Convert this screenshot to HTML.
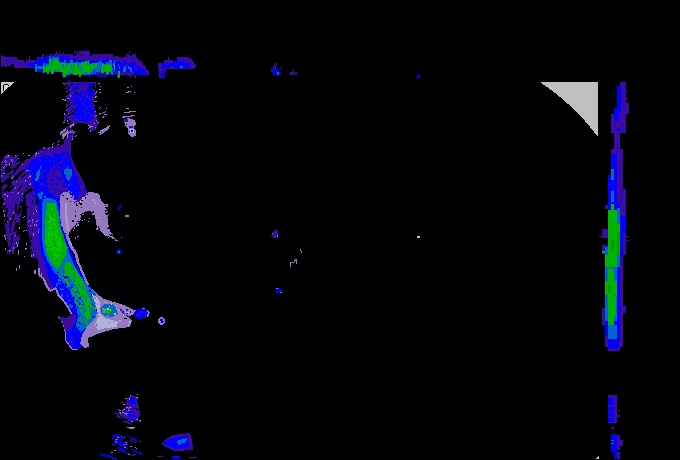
<!DOCTYPE html>
<html><head><meta charset="utf-8"><title>Radar</title>
<style>
html,body{margin:0;padding:0;background:#000;width:680px;height:460px;overflow:hidden;font-family:"Liberation Sans",sans-serif;}
svg{display:block;position:absolute;left:0;top:0}
</style></head><body>
<svg width="680" height="460" viewBox="0 0 680 460" shape-rendering="crispEdges">
<rect width="680" height="460" fill="#000"/>
<path fill="#3a0ca3" d="M1 57h1v10h-1zM2 56h3v10h-3zM5 57h2v10h-2zM7 57h3v9h-3zM10 56h1v10h-1zM11 57h3v7h-3zM14 57h1v11h-1zM15 57h2v11h-2zM17 60h2v8h-2zM19 60h2v8h-2zM21 60h2v8h-2zM23 60h1v8h-1zM24 62h2v6h-2zM26 60h2v8h-2zM28 60h3v8h-3zM31 60h1v8h-1zM32 60h3v8h-3zM35 62h2v10h-2zM37 57h2v13h-2zM39 57h2v15h-2zM41 57h2v13h-2zM43 57h2v15h-2zM45 57h1v15h-1zM46 58h1v14h-1zM47 57h1v15h-1zM48 57h1v14h-1zM49 54h2v17h-2zM51 54h2v18h-2zM53 56h1v16h-1zM54 54h3v18h-3zM57 54h2v16h-2zM59 54h3v18h-3zM62 54h1v21h-1zM63 52h1v22h-1zM64 54h2v21h-2zM66 54h3v21h-3zM69 55h1v20h-1zM70 54h3v21h-3zM73 56h3v18h-3zM76 53h1v21h-1zM77 54h2v21h-2zM79 54h2v21h-2zM81 56h1v19h-1zM82 54h3v21h-3zM85 54h2v22h-2zM87 54h1v21h-1zM88 54h1v21h-1zM89 54h1v20h-1zM90 56h2v19h-2zM92 54h2v21h-2zM94 54h1v21h-1zM95 54h2v21h-2zM97 54h3v21h-3zM100 54h1v21h-1zM101 54h1v20h-1zM102 54h2v21h-2zM104 54h2v22h-2zM106 54h2v21h-2zM108 54h1v21h-1zM109 54h2v21h-2zM111 57h1v18h-1zM112 57h1v18h-1zM113 57h1v18h-1zM114 57h1v18h-1zM115 56h3v18h-3zM118 57h1v18h-1zM119 57h2v18h-2zM121 58h2v18h-2zM123 57h3v17h-3zM126 54h2v21h-2zM128 55h2v21h-2zM130 56h2v19h-2zM132 54h2v21h-2zM134 54h2v20h-2zM136 58h1v17h-1zM137 58h1v17h-1zM138 60h2v14h-2zM140 62h1v13h-1zM141 61h1v14h-1zM142 63h1v13h-1zM143 65h2v10h-2zM145 67h1v7h-1zM146 70h1v4h-1zM147 70h2v5h-2z"/>
<path fill="#0000ff" d="M28 63h3v3h-3zM31 63h1v4h-1zM32 63h3v4h-3zM35 60h2v9h-2zM37 60h2v12h-2zM39 58h2v11h-2zM41 60h2v13h-2zM43 57h2v15h-2zM45 58h1v14h-1zM46 57h1v15h-1zM47 57h1v15h-1zM48 56h1v16h-1zM49 55h2v17h-2zM51 57h2v15h-2zM53 56h1v16h-1zM54 56h3v16h-3zM57 57h2v12h-2zM59 56h3v13h-3zM62 56h1v19h-1zM63 56h1v21h-1zM64 56h2v17h-2zM66 56h3v21h-3zM69 62h1v12h-1zM70 60h3v15h-3zM73 58h3v15h-3zM76 60h1v16h-1zM77 60h2v15h-2zM79 60h2v15h-2zM81 60h1v15h-1zM82 60h3v15h-3zM85 62h2v13h-2zM87 60h1v15h-1zM88 59h1v16h-1zM89 61h1v16h-1zM90 60h2v16h-2zM92 60h2v15h-2zM94 61h1v14h-1zM95 60h2v14h-2zM97 60h3v17h-3zM100 60h1v15h-1zM101 60h1v15h-1zM102 60h2v17h-2zM104 60h2v15h-2zM106 59h2v16h-2zM108 60h1v13h-1zM109 61h2v14h-2zM111 60h1v15h-1zM112 60h1v17h-1zM113 60h1v15h-1zM114 60h1v15h-1zM115 62h3v11h-3zM118 61h1v13h-1zM119 62h2v12h-2zM121 62h2v8h-2zM123 60h3v12h-3zM126 62h2v11h-2zM128 64h2v8h-2zM130 62h2v10h-2zM132 62h2v10h-2zM134 62h2v12h-2zM136 63h1v12h-1zM137 65h1v10h-1zM138 66h2v9h-2zM140 68h1v7h-1zM141 68h1v5h-1zM142 69h1v6h-1zM143 69h2v6h-2zM145 72h1v4h-1zM146 72h1v3h-1z"/>
<path fill="#0068c8" d="M35 64h2v8h-2zM37 66h2v3h-2zM39 66h2v3h-2zM41 66h2v3h-2zM43 63h2v10h-2zM45 66h1v6h-1zM46 63h1v9h-1zM47 64h1v9h-1zM48 64h1v10h-1zM49 56h2v16h-2zM51 58h2v16h-2zM53 56h1v18h-1zM54 57h3v15h-3zM57 57h2v11h-2zM59 62h3v10h-3zM62 63h1v13h-1zM63 62h1v16h-1zM64 60h2v12h-2zM66 63h3v12h-3zM69 63h1v12h-1zM70 60h3v14h-3zM73 63h3v12h-3zM76 63h1v9h-1zM77 64h2v11h-2zM79 63h2v12h-2zM81 62h1v12h-1zM82 63h3v12h-3zM85 66h2v9h-2zM87 62h1v13h-1zM88 60h1v15h-1zM89 63h1v12h-1zM90 66h2v8h-2zM92 63h2v11h-2zM94 63h1v7h-1zM95 64h2v8h-2zM97 62h3v12h-3zM100 60h1v9h-1zM101 62h1v10h-1zM102 63h2v9h-2zM104 64h2v8h-2zM106 62h2v13h-2zM108 63h1v11h-1zM109 60h2v12h-2zM111 60h1v10h-1zM112 66h1v9h-1zM113 63h1v6h-1zM114 60h1v15h-1zM118 64h1v2h-1zM119 66h2v3h-2zM123 68h3v4h-3zM126 66h2v3h-2zM128 66h2v3h-2zM130 69h2v3h-2z"/>
<path fill="#00b400" d="M43 66h2v6h-2zM45 68h1v4h-1zM46 64h1v8h-1zM47 66h1v8h-1zM48 66h1v7h-1zM49 59h2v11h-2zM51 62h2v12h-2zM53 60h1v12h-1zM54 59h3v11h-3zM57 61h2v11h-2zM59 63h3v9h-3zM62 63h1v9h-1zM63 63h1v11h-1zM64 63h2v14h-2zM66 65h3v9h-3zM69 64h1v6h-1zM70 63h3v10h-3zM73 63h3v12h-3zM76 62h1v13h-1zM77 63h2v11h-2zM79 63h2v14h-2zM81 64h1v11h-1zM82 62h3v11h-3zM85 61h2v11h-2zM87 63h1v9h-1zM88 61h1v13h-1zM89 64h1v10h-1zM90 64h2v8h-2zM92 63h2v6h-2zM94 65h1v3h-1zM95 63h2v5h-2zM102 64h2v9h-2zM104 65h2v7h-2zM106 64h2v10h-2zM108 65h1v7h-1zM109 65h2v6h-2zM111 65h1v9h-1z"/>
<path fill="#3a0ca3" d="M1 54h1v4h-1zM42 54h2v3h-2zM46 54h1v3h-1zM56 51h1v3h-1zM59 51h1v3h-1zM74 51h1v3h-1zM77 51h1v3h-1zM79 51h11v3h-11zM111 54h2v3h-2zM129 51h1v3h-1zM29 56h1v4h-1z"/>
<path fill="#0068c8" d="M117 72h1v5h-1zM119 72h1v3h-1z"/>
<path fill="#00b400" d="M118 71h2v7h-2zM52 69h1v2h-1zM57 69h1v2h-1z"/>
<path fill="#3a0ca3" d="M96 72h6v3h-6zM113 72h5v3h-5zM122 72h12v3h-12zM101 75h1v3h-1zM105 75h1v3h-1zM131 75h1v3h-1zM134 75h2v3h-2z"/>
<path fill="#0000ff" d="M120 63h2v9h-2zM126 66h2v6h-2zM112 64h2v4h-2z"/>
<path fill="#0068c8" d="M124 66h2v4h-2zM130 68h2v3h-2z"/>
<path fill="#3a0ca3" d="M136 60h2v1h-2zM122 63h1v1h-1zM118 59h2v2h-2zM120 61h1v2h-1zM123 61h1v2h-1zM119 61h1v1h-1zM134 64h1v1h-1zM135 66h1v1h-1zM128 63h1v1h-1zM129 65h2v2h-2zM135 61h1v1h-1zM135 66h2v2h-2zM120 59h2v1h-2zM137 60h2v2h-2zM136 63h2v2h-2zM121 62h2v1h-2zM135 68h2v2h-2zM123 65h1v1h-1zM134 60h1v2h-1zM126 65h2v2h-2zM140 61h1v1h-1zM127 60h1v1h-1zM127 62h2v1h-2zM125 64h2v2h-2zM141 64h2v2h-2zM122 65h2v1h-2z"/>
<path fill="#0068c8" d="M78 67h1v3h-1zM57 69h1v2h-1zM79 65h1v2h-1zM71 66h1v3h-1zM81 62h1v4h-1zM77 62h1v3h-1zM65 66h1v2h-1zM71 64h1v5h-1zM78 62h1v4h-1zM63 66h1v3h-1zM63 64h1v5h-1zM95 69h1v5h-1zM73 64h1v5h-1zM80 67h1v5h-1zM87 61h1v4h-1zM51 63h1v2h-1zM51 63h1v4h-1zM82 69h1v2h-1zM90 68h1v2h-1zM62 64h1v4h-1zM81 67h1v2h-1zM72 68h1v3h-1zM68 63h1v2h-1zM78 65h1v5h-1zM78 62h1v3h-1zM59 68h1v4h-1z"/>
<path fill="#00b400" d="M109 69h1v3h-1zM102 67h1v3h-1zM111 67h1v4h-1zM114 65h1v3h-1zM106 66h1v2h-1zM111 66h1v3h-1zM106 69h1v2h-1zM113 64h1v2h-1zM101 69h1v4h-1zM101 68h1v2h-1zM102 64h1v2h-1zM103 67h1v3h-1z"/>
<path fill="#3a0ca3" d="M158 63h6v6h-6zM164 60h8v9h-8zM168 57h1v3h-1zM172 61h5v8h-5zM177 57h12v12h-12zM189 59h3v10h-3zM192 61h2v8h-2zM194 64h2v4h-2zM159 69h7v3h-7zM159 72h6v6h-6zM160 68h2v2h-2z"/>
<path fill="#0000ff" d="M162 63h28v5h-28zM173 61h16v2h-16zM161 73h4v4h-4zM163 70h2v3h-2z"/>
<path fill="#3a0ca3" d="M166 63h3v2h-3zM170 66h3v2h-3zM186 61h3v2h-3z"/>
<path fill="#0068c8" d="M180 66h3v2h-3z"/>
<polygon fill="#3a0ca3" points="66,82 96,82 96,92 94,100 95,110 97,118 98,124 96,130 90,131 88,124 80,123 72,122 67,118 68,112 66,106 68,98 70,90"/>
<polygon fill="#0000ff" points="70,83 95,83 94,92 92,100 94,112 93,120 86,122 79,121 74,116 76,106 70,102 73,94 71,88"/>
<polygon fill="#3a0ca3" points="79,84 87,84 87,90 84,92 79,91"/>
<path fill="#3a0ca3" d="M76 87h1v2h-1zM75 90h2v1h-2zM73 83h1v1h-1zM82 92h2v2h-2zM89 106h2v1h-2zM84 113h2v2h-2zM72 92h1v2h-1zM85 93h1v1h-1zM86 106h1v1h-1zM79 88h2v2h-2zM75 105h1v2h-1zM90 97h1v1h-1zM82 97h1v2h-1zM81 84h1v2h-1zM85 99h1v2h-1zM84 105h2v1h-2zM77 89h1v2h-1zM76 104h1v2h-1zM90 105h1v1h-1zM82 95h2v1h-2zM83 104h1v2h-1zM84 108h1v1h-1zM75 91h1v1h-1zM88 112h1v2h-1zM91 105h1v1h-1zM70 83h1v1h-1zM83 95h1v1h-1zM78 96h2v1h-2zM80 99h2v1h-2zM84 120h2v1h-2zM87 92h1v2h-1zM89 83h1v1h-1zM74 113h1v1h-1zM80 116h2v1h-2zM87 86h1v1h-1zM78 85h1v2h-1zM87 84h1v2h-1zM86 121h1v2h-1zM84 115h2v1h-2zM92 116h2v1h-2zM84 91h2v1h-2zM82 111h2v1h-2zM91 98h2v1h-2zM76 102h1v1h-1zM92 106h1v2h-1zM77 89h2v2h-2zM75 97h1v2h-1zM86 108h2v2h-2zM76 105h2v1h-2zM87 112h2v1h-2zM82 104h2v1h-2zM73 97h1v1h-1zM78 100h1v1h-1zM78 91h2v2h-2zM82 92h2v2h-2zM72 100h1v1h-1zM83 87h2v1h-2zM90 88h2v1h-2zM89 97h1v2h-1zM87 109h2v1h-2zM73 93h2v1h-2zM75 95h2v2h-2zM86 96h2v2h-2zM86 94h2v2h-2zM78 85h1v1h-1zM93 115h1v2h-1zM77 111h1v2h-1zM91 114h2v2h-2zM92 96h1v2h-1zM76 91h2v2h-2zM90 99h2v1h-2zM71 88h2v2h-2zM89 98h2v1h-2zM84 94h1v2h-1zM84 83h2v2h-2zM80 118h2v1h-2zM71 102h1v2h-1zM75 83h2v2h-2zM78 115h1v1h-1zM86 83h1v2h-1zM72 92h2v1h-2zM82 84h2v2h-2zM90 97h1v1h-1zM82 103h2v1h-2zM90 92h1v2h-1zM93 115h1v1h-1zM72 84h1v1h-1zM90 106h1v2h-1zM84 118h1v1h-1zM90 117h1v2h-1z"/>
<path fill="#0000ff" d="M72 84h2v1h-2zM76 118h1v1h-1zM75 100h1v2h-1zM71 97h1v2h-1zM75 108h1v2h-1zM68 96h1v1h-1zM73 100h2v1h-2zM68 114h1v2h-1zM72 90h1v2h-1zM72 117h2v2h-2zM75 113h1v1h-1zM72 89h2v1h-2zM72 113h1v2h-1zM72 108h1v1h-1zM69 89h1v2h-1zM73 92h2v1h-2zM73 98h2v2h-2zM74 85h1v1h-1zM75 112h2v2h-2zM70 110h2v2h-2z"/>
<path fill="#000" d="M90 84h1v10h-1zM92 84h1v4h-1zM93 86h1v4h-1zM94 84h1v5h-1zM95 88h1v4h-1zM77 87h2v2h-2zM75 92h2v2h-2z"/>
<path fill="none" stroke="#3a0ca3" stroke-width="1.5" d="M64.5 115.9L67.1 114.4M68.7 88.6L75.2 84.6M69.2 95.0L73.1 92.1M70.0 106.4L73.9 103.6M64.2 85.8L67.3 84.1M64.3 119.6L67.6 116.9M66.1 91.2L70.4 89.0M69.1 114.9L74.5 112.0M69.5 104.9L74.4 100.4M67.9 101.1L73.6 97.5M64.3 85.9L70.0 80.8M65.8 97.1L69.6 94.8M69.8 93.9L74.7 90.0M66.5 99.0L69.4 96.5M63.7 118.4L67.9 114.9M65.6 89.3L68.5 86.7"/>
<path fill="none" stroke="#000" stroke-width="1" d="M66.7 89.1L69.6 86.8M68.6 116.2L72.8 113.1M67.3 103.8L70.6 101.3M64.5 95.4L68.9 91.5M68.0 107.4L72.3 103.8M66.2 94.4L69.6 92.0M71.6 114.9L75.7 111.0M64.3 110.1L68.9 106.8M68.7 86.0L72.4 84.1M70.6 115.1L75.2 111.4M64.9 91.2L68.8 88.9M71.5 110.5L75.8 108.1M67.7 104.8L70.4 103.2M65.9 117.3L69.7 114.2"/>
<path fill="none" stroke="#000" stroke-width="1" d="M92.8 102.5L96.1 100.5M92.7 97.8L95.7 95.9M94.3 101.8L97.1 99.2M93.8 108.0L97.9 105.4M97.3 108.4L99.4 106.7M97.8 114.3L99.9 112.3"/>
<path fill="none" stroke="#9478c0" stroke-width="1" d="M66.0 111.0L67.1 110.1M67.3 121.0L68.2 120.2M64.7 100.8L66.0 99.7M68.4 113.6L69.5 112.6M69.8 96.5L71.2 95.3M63.8 114.4L64.9 113.8M66.0 91.5L67.0 90.8M67.3 122.0L68.2 121.3M63.7 123.0L64.5 122.2M62.5 99.7L64.2 98.8M67.9 123.9L69.4 122.7M63.5 121.4L64.8 120.2M67.3 99.1L68.4 98.3M63.4 84.1L64.4 83.3"/>
<path fill="none" stroke="#9478c0" stroke-width="1" d="M99.7 87.2L101.2 85.9M95.5 116.5L97.0 115.4M95.6 120.6L96.6 119.9M99.3 83.3L100.5 82.6M98.4 83.7L99.1 83.0M99.4 92.8L101.0 92.0M95.4 93.4L97.0 92.4M94.8 112.1L95.9 111.3M99.4 108.6L100.8 107.3M94.6 102.0L96.4 101.1M95.7 92.5L96.9 91.7M99.5 89.7L101.0 88.8M98.8 114.5L100.0 113.5M95.2 97.2L96.6 96.0"/>
<path fill="none" stroke="#3a0ca3" stroke-width="2" d="M60.0 134.0L79.0 120.0M63.0 131.0L76.0 122.0M66.0 134.0L72.0 129.0"/>
<path fill="none" stroke="#9478c0" stroke-width="2" d="M60.0 134.0L66.0 129.0M70.0 127.0L74.0 124.0M62.0 136.0L68.0 131.0"/>
<path fill="none" stroke="#9478c0" stroke-width="1.3" d="M99.6 135.0L103.7 131.8M98.8 133.0L105.1 129.1M99.9 132.3L106.1 129.1M103.3 130.0L110.0 125.4M102.5 132.0L108.7 127.6M100.0 131.0L104.3 129.1M102.6 131.6L108.1 129.4"/>
<path fill="none" stroke="#9478c0" stroke-width="1" d="M102.0 113.6L105.9 111.6M101.8 117.7L105.9 116.0M99.2 114.1L101.1 112.7M104.2 115.1L106.7 114.0"/>
<path fill="none" stroke="#9478c0" stroke-width="1" d="M97.3 123.1L99.3 122.0M88.6 125.7L89.6 125.0M89.1 128.0L90.9 126.7M94.1 123.9L95.4 122.9M95.5 127.5L96.4 126.8M90.7 127.5L92.5 126.1M88.0 129.0L89.4 127.9M89.7 131.5L91.1 130.7"/>
<path fill="none" stroke="#9478c0" stroke-width="1" d="M67.0 135.9L69.4 134.6M67.1 134.4L68.9 132.7M62.1 139.3L63.7 138.3M67.7 139.2L69.1 137.9M62.2 136.9L64.2 135.7M63.2 137.4L64.6 136.3M64.0 135.0L65.8 134.0M63.5 136.4L65.8 135.2M64.8 133.9L67.3 132.5M68.8 133.4L71.0 131.6M74.7 137.3L76.6 135.5M73.0 134.6L74.6 133.6M73.6 134.3L74.7 133.4M69.3 135.7L70.2 134.9M72.1 139.3L73.0 138.6M72.6 133.3L74.5 131.4"/>
<path fill="#9478c0" d="M127 87h2v1h-2zM131 86h1v1h-1zM126 92h3v1h-3zM128 91h3v1h-3zM134 92h1v1h-1zM104 112h1v1h-1zM106 108h1v1h-1z"/>
<path fill="#3a0ca3" d="M130 93h2v1h-2zM104 116h2v1h-2z"/>
<path fill="none" stroke="#9478c0" stroke-width="1" d="M126.0 109.0L129.0 108.0M124.0 113.0L130.0 112.0M129.0 112.0L136.0 111.0M122.0 118.0L128.0 116.0M128.0 117.0L135.0 115.0M123.0 116.0L126.0 116.0"/>
<polygon fill="#9478c0" points="124,120 128,118 135,120 136,124 134,127 136,131 136,136 131,137 128,134 128,128 125,126"/>
<path fill="#3a0ca3" d="M124 119h4v3h-4zM129 126h4v2h-4z"/>
<path fill="#0000ff" d="M130 127h2v1h-2z"/>
<path fill="#b0b4d8" d="M130 129h4v4h-4z"/>
<path fill="#0000ff" d="M131 130h2v2h-2z"/>
<path fill="#000" d="M126 124h1v1h-1zM134 128h2v1h-2zM129 131h1v1h-1z"/>
<polygon fill="#3a0ca3" points="64,141 68,135 72,131 76,132 72,138 71,145 71,155 74,165 79,173 84,183 87,192 88,198 80,203 62,225 67,237 72,253 78,267 86,281 90,287 96,293 98,305 96,317 88,325 82,335 80,344 78,350 72,349 66,341 65,331 63,323 58,316 68,319 72,315 69,309 64,301 58,295 56,287 50,291 46,285 44,279 39,275 38,267 38,261 34,250 30,240 27,225 26,200 23,200 22,215 20,235 14,248 10,253 7,240 5,225 2,205 2,188 1,175 1,163 4,158 12,161 22,164 30,158 38,151 48,150 58,150 63,148"/>
<polygon fill="#0000ff" points="38,150 44,150 52,153 58,154 64,152 67,151 70,155 72,165 76,177 80,187 79,195 76,200 62,225 67,237 72,253 78,267 86,281 90,287 96,293 98,305 96,317 88,325 82,335 82,347 76,349 70,347 66,338 66,323 76,315 73,314 70,309 65,301 59,295 55,289 50,281 46,268 43,260 41,252 39,240 39,225 39,212 36,201 34,189 32,177 28,166 30,161"/>
<polygon fill="#3a0ca3" points="51,168 56,164 60,167 62,175 64,182 67,186 68,193 62,196 55,197 50,193 47,185 47,175"/>
<path fill="#3a0ca3" d="M62 159h1v2h-1zM60 161h2v2h-2zM47 150h1v2h-1zM65 157h2v2h-2zM61 153h1v1h-1zM58 163h2v1h-2zM64 166h1v1h-1zM44 152h2v1h-2zM44 150h1v1h-1zM48 154h2v2h-2zM46 157h1v2h-1zM52 155h2v2h-2zM65 154h2v2h-2zM68 157h2v2h-2zM38 156h1v2h-1zM53 160h2v1h-2zM52 153h1v2h-1zM64 167h1v2h-1zM61 161h2v2h-2zM59 168h1v2h-1zM57 152h2v1h-2zM39 159h2v2h-2zM50 154h2v2h-2zM62 166h2v1h-2zM55 153h2v1h-2zM62 168h2v1h-2zM49 161h2v1h-2zM44 150h1v1h-1zM64 153h1v1h-1zM53 162h2v1h-2zM71 161h2v2h-2zM51 155h1v1h-1zM47 157h1v1h-1zM42 150h1v1h-1zM62 156h2v1h-2zM68 159h1v2h-1zM60 163h2v1h-2zM64 155h1v1h-1zM52 157h1v1h-1zM57 158h1v2h-1z"/>
<path fill="#0000ff" d="M56 177h1v1h-1zM52 180h1v1h-1zM52 184h1v2h-1zM57 179h2v2h-2zM54 183h1v2h-1zM51 166h1v1h-1zM50 174h2v1h-2zM48 172h1v1h-1zM48 168h2v1h-2zM59 170h1v1h-1zM53 171h1v1h-1zM62 170h1v1h-1zM56 184h2v2h-2zM55 165h2v2h-2zM56 167h2v2h-2zM62 182h1v2h-1zM58 194h1v1h-1zM49 182h1v2h-1zM56 167h1v2h-1zM62 170h2v1h-2zM62 186h2v1h-2zM56 177h1v2h-1zM52 171h1v2h-1zM58 170h2v2h-2zM58 177h2v2h-2zM52 188h1v2h-1zM51 166h2v2h-2zM63 173h2v2h-2zM52 193h2v2h-2zM51 185h2v1h-2zM63 176h2v2h-2zM51 179h2v2h-2zM52 179h2v1h-2zM55 170h1v1h-1zM53 188h1v1h-1zM56 183h2v2h-2zM53 170h1v2h-1zM53 188h2v1h-2zM60 178h2v2h-2zM55 189h1v1h-1zM60 190h1v1h-1zM61 191h2v2h-2zM60 179h2v1h-2zM55 191h2v2h-2zM63 175h2v1h-2zM50 166h2v1h-2zM52 176h2v1h-2zM65 193h1v2h-1zM63 185h2v2h-2zM53 175h2v1h-2z"/>
<path fill="#3a0ca3" d="M41 165h2v2h-2zM42 187h1v1h-1zM43 184h2v1h-2zM37 181h2v1h-2zM42 191h1v1h-1zM34 166h1v2h-1zM37 171h2v2h-2zM44 180h1v2h-1zM41 176h2v2h-2zM38 189h1v2h-1zM41 177h2v2h-2zM45 193h2v1h-2zM41 171h2v2h-2zM31 167h2v1h-2zM30 162h1v1h-1zM39 178h1v1h-1zM37 173h2v2h-2zM34 175h2v1h-2zM39 174h2v1h-2zM44 169h1v2h-1zM43 176h1v2h-1zM44 171h2v1h-2zM45 172h1v1h-1zM40 191h2v2h-2zM44 185h2v2h-2zM32 173h2v1h-2zM30 164h2v1h-2zM45 171h1v1h-1zM43 170h2v1h-2zM41 183h2v1h-2z"/>
<path fill="#0000ff" d="M26 187h2v2h-2zM26 182h2v2h-2zM27 192h2v2h-2zM27 172h2v2h-2zM32 165h1v2h-1zM33 195h2v1h-2zM28 179h1v1h-1zM31 163h2v1h-2zM32 189h1v1h-1zM32 171h1v2h-1zM27 168h2v2h-2zM31 197h1v2h-1zM31 193h1v1h-1zM34 186h2v2h-2zM32 184h1v2h-1zM34 186h1v1h-1zM32 190h1v1h-1zM25 167h1v2h-1zM33 196h1v2h-1zM27 169h1v2h-1zM32 195h2v2h-2zM32 176h1v1h-1zM22 165h2v2h-2zM31 163h2v2h-2z"/>
<path fill="#3a0ca3" d="M76 181h1v1h-1zM65 177h1v2h-1zM71 174h1v2h-1zM71 184h2v1h-2zM74 178h2v1h-2zM70 174h2v1h-2zM66 174h2v2h-2zM69 175h1v2h-1zM76 188h1v2h-1zM76 183h1v2h-1zM64 173h2v2h-2zM77 182h1v1h-1zM68 172h1v1h-1zM71 177h2v2h-2zM69 167h2v2h-2zM65 177h2v1h-2zM66 176h1v2h-1zM70 182h1v1h-1zM68 174h2v2h-2zM66 174h1v2h-1zM68 171h2v1h-2zM62 167h1v2h-1z"/>
<path fill="#0000ff" d="M85 190h2v1h-2zM74 170h1v1h-1zM82 195h2v1h-2zM69 159h2v1h-2zM77 180h2v1h-2zM74 176h2v1h-2zM75 171h1v2h-1zM76 179h2v1h-2zM77 177h2v1h-2zM80 182h2v1h-2zM71 173h2v1h-2zM71 162h1v1h-1zM71 163h1v1h-1zM84 188h1v2h-1zM78 186h1v2h-1zM82 184h1v1h-1zM69 169h2v1h-2zM85 190h2v1h-2zM80 181h2v1h-2zM69 157h2v1h-2zM83 187h1v1h-1zM79 188h1v2h-1zM76 175h1v2h-1zM78 185h1v2h-1zM73 177h1v2h-1zM76 177h1v1h-1z"/>
<polygon fill="#0068c8" points="66,168 69,165 68,169 72,169 72,175 70,178 69,182 67,179 66,176 64,174 64,170"/>
<polygon fill="#0068c8" points="37,171 40,169 40,175 38,181 35,181 36,176"/>
<polygon fill="#0068c8" points="38,193 43,192 42,199 38,199"/>
<path fill="#0068c8" d="M40 166h1v3h-1zM41 183h1v2h-1zM44 196h2v2h-2zM68 184h1v2h-1z"/>
<polygon fill="#0068c8" points="43,199 49,198 56,200 59,212 61,228 65,240 70,255 74,265 80,275 86,283 92,290 96,294 98,305 96,317 88,325 80,333 76,325 78,317 76,305 70,291 62,281 54,271 48,262 44,252 42,240 42,205"/>
<polygon fill="#00b400" points="47,203 55,203 58,214 60,228 64,240 67,248 66,255 62,262 58,269 54,266 50,260 46,250 45,240 45,225 46,212"/>
<polygon fill="#00cc00" points="49,214 54,218 58,232 62,246 61,254 56,258 51,250 48,238 48,224"/>
<path fill="#00b400" d="M51 222h2v2h-2zM60 243h1v1h-1zM57 231h2v1h-2zM52 221h1v2h-1zM51 216h2v1h-2zM52 236h1v1h-1zM49 243h1v2h-1zM50 232h2v2h-2zM52 229h1v2h-1zM58 238h1v2h-1zM55 249h2v2h-2zM55 233h1v1h-1zM53 228h1v2h-1zM57 239h1v2h-1zM50 229h2v2h-2zM55 231h2v1h-2zM52 217h1v1h-1zM57 236h2v1h-2zM56 238h2v2h-2zM56 228h1v2h-1zM53 222h1v2h-1zM61 247h1v2h-1zM59 254h1v2h-1zM60 249h1v2h-1zM54 250h1v2h-1zM54 242h2v2h-2zM52 236h2v2h-2zM58 234h1v2h-1zM54 242h2v1h-2zM56 233h1v2h-1zM57 238h1v1h-1zM53 252h1v2h-1zM51 241h1v1h-1zM48 230h2v2h-2zM56 253h2v2h-2zM54 243h2v1h-2zM53 242h1v1h-1zM56 228h1v2h-1zM53 246h2v1h-2zM54 245h2v2h-2zM60 253h2v1h-2zM50 237h2v2h-2zM49 233h1v1h-1zM61 246h2v1h-2zM56 232h1v1h-1zM54 225h1v1h-1zM53 250h1v2h-1zM54 220h1v1h-1zM51 225h2v2h-2zM54 252h1v1h-1zM50 247h1v1h-1zM49 218h1v2h-1zM57 241h1v1h-1zM58 251h2v1h-2zM53 231h1v1h-1zM49 236h1v2h-1zM57 238h1v1h-1zM51 239h1v2h-1zM51 229h1v1h-1zM52 240h2v2h-2z"/>
<path fill="#00cc00" d="M47 234h2v1h-2zM58 242h2v2h-2zM45 234h1v1h-1zM50 248h2v1h-2zM45 240h2v2h-2zM48 245h2v2h-2zM56 234h2v1h-2zM59 239h2v1h-2zM53 206h2v1h-2zM52 219h1v1h-1zM53 219h2v2h-2zM52 223h2v2h-2zM51 254h2v1h-2zM54 263h1v1h-1zM63 250h1v2h-1zM51 219h1v1h-1zM62 237h2v1h-2zM54 204h2v1h-2zM52 244h1v1h-1zM47 249h2v1h-2zM47 242h1v1h-1zM54 219h2v2h-2zM56 254h2v1h-2zM53 225h1v2h-1zM66 247h2v1h-2zM52 254h2v1h-2zM50 240h1v2h-1zM58 228h2v1h-2zM62 242h1v1h-1zM53 258h2v1h-2zM48 239h1v1h-1zM52 217h1v2h-1zM51 247h1v2h-1zM53 214h2v2h-2zM59 246h2v1h-2zM51 208h2v1h-2zM62 236h1v1h-1zM50 248h2v2h-2zM47 228h2v1h-2zM52 233h1v2h-1z"/>
<polygon fill="#00b400" points="66,262 70,262 76,270 82,280 88,292 91,304 91,316 87,323 83,322 85,312 84,302 79,291 73,282 67,274 64,268"/>
<path fill="none" stroke="#00b400" stroke-width="1.2" d="M76.4 297.7L78.2 301.3M65.9 272.0L67.5 275.9M72.8 281.6L76.0 285.8M77.0 303.8L80.4 308.3M68.3 273.8L70.0 278.0M74.0 286.5L77.0 291.2M64.0 273.4L66.7 279.5M64.6 269.1L66.0 272.2M79.7 293.6L81.8 296.5M78.9 302.5L81.6 307.0M75.1 296.5L77.6 300.5M64.8 278.3L68.7 283.9M79.8 301.1L81.5 304.4M80.1 302.7L83.8 307.7M79.8 317.2L81.9 322.3M71.4 290.8L74.2 295.9M61.1 273.3L65.1 278.6M79.9 309.4L83.6 314.1M64.6 278.9L67.1 283.3M67.2 283.7L70.6 288.0M64.7 274.1L67.4 280.3M74.8 298.4L77.1 304.3"/>
<path fill="none" stroke="#0068c8" stroke-width="1.2" d="M83.4 288.9L85.0 292.8M78.5 283.7L81.6 288.4M72.8 282.1L75.9 286.6M81.0 299.9L85.0 305.2M89.6 316.2L91.6 319.0M73.6 283.8L77.7 289.8M88.4 304.9L90.5 309.1M82.8 315.0L86.3 321.0M89.0 310.6L93.7 317.0M82.8 286.3L84.9 290.8M90.0 297.2L91.7 300.6M82.4 319.9L84.4 322.7M89.9 297.1L92.3 300.9M83.3 305.3L86.4 312.2M72.9 272.5L76.6 279.1M85.2 299.6L87.8 302.9M70.8 265.4L73.0 268.3M81.2 308.6L85.3 315.3M90.3 314.4L92.0 317.0M74.0 283.7L76.2 287.9M86.8 290.7L88.2 293.5M82.2 295.0L85.4 300.7M71.7 277.2L75.1 281.8M86.7 320.6L88.4 323.9M90.2 299.5L92.0 302.6M84.7 316.2L87.6 322.9M85.8 293.7L87.9 298.0M89.6 302.5L92.3 306.4M86.1 290.6L89.4 297.6M72.4 267.3L73.6 270.1"/>
<path fill="none" stroke="#009c00" stroke-width="1" d="M53.5 228.5L54.2 232.9M52.7 213.0L53.7 218.0M57.6 218.1L59.0 223.7M54.7 239.2L55.4 242.5M58.2 233.0L59.2 236.6M62.6 233.0L63.3 236.3M51.0 244.5L52.0 248.7M48.1 223.0L49.1 227.0M60.0 267.6L60.8 271.6M49.6 250.8L50.3 252.7M58.0 226.4L59.1 229.5M53.9 234.5L55.3 238.4M51.3 254.1L52.5 259.5M53.3 239.1L54.7 244.8M66.2 248.5L66.8 250.7M56.9 242.4L58.4 246.9M62.7 236.4L64.0 240.5M62.2 237.3L63.2 240.5M56.4 257.8L57.4 262.9M55.8 213.7L58.0 219.2M62.5 257.9L63.0 260.1M62.6 263.6L64.5 268.3M55.7 244.2L56.3 248.4M56.0 221.9L56.9 224.4M62.3 262.8L63.5 265.9M57.0 250.8L58.2 254.0M62.6 240.3L63.4 243.4M54.1 226.8L55.6 230.3M62.0 252.4L62.8 254.9M48.1 217.6L49.1 221.4"/>
<path fill="none" stroke="#00b400" stroke-width="1.4" d="M80.7 295.5L84.6 301.3M77.8 293.6L79.8 296.4M85.4 320.9L88.9 326.5M80.2 278.4L81.9 282.3M91.3 316.5L94.9 321.2M73.8 288.5L77.3 295.4M83.0 289.9L87.7 296.4M71.9 286.8L75.1 291.1M87.4 298.5L89.0 301.2M87.9 297.2L90.6 303.4M71.6 274.2L76.2 280.7M78.2 295.3L80.0 298.2M81.9 281.1L83.9 285.7M75.1 296.5L77.8 300.2M90.0 304.0L93.8 309.3M81.9 308.7L83.8 311.1M90.5 314.7L92.4 317.3M75.2 274.8L76.7 278.6M80.3 288.0L84.1 293.4M68.1 273.5L72.4 279.4M86.4 293.8L87.8 296.6M84.5 313.3L87.8 317.9"/>
<path fill="#3a0ca3" d="M72 339h1v2h-1zM69 329h1v1h-1zM79 330h2v2h-2zM79 327h1v1h-1zM67 328h2v2h-2zM73 341h2v1h-2zM75 331h2v1h-2zM70 344h1v2h-1zM78 327h2v1h-2zM68 329h2v1h-2zM71 336h2v2h-2zM69 324h2v1h-2zM72 343h1v2h-1zM72 338h2v2h-2zM68 329h1v2h-1zM73 341h2v1h-2z"/>
<path fill="#0000ff" d="M57 272h2v1h-2zM63 275h1v2h-1zM69 287h2v2h-2zM59 279h2v1h-2zM77 307h2v1h-2zM77 307h1v1h-1zM73 297h2v1h-2zM55 274h1v2h-1zM65 276h2v1h-2zM65 282h1v2h-1zM69 291h1v2h-1zM57 278h1v1h-1zM61 282h1v2h-1zM65 284h2v2h-2zM71 285h1v1h-1zM77 306h1v1h-1zM79 322h1v1h-1zM59 281h2v1h-2zM72 285h1v1h-1zM79 304h1v1h-1zM64 278h1v1h-1zM64 277h2v1h-2zM61 281h1v1h-1zM79 302h1v2h-1zM64 276h1v1h-1zM67 277h2v1h-2zM79 303h2v1h-2zM76 291h1v2h-1zM79 315h1v2h-1zM81 304h2v1h-2zM79 323h2v1h-2zM71 287h2v1h-2zM79 297h2v2h-2zM66 277h1v2h-1zM71 285h1v2h-1zM64 277h2v1h-2zM76 300h2v1h-2zM66 289h2v1h-2zM65 282h1v2h-1zM73 297h2v2h-2z"/>
<path fill="#0068c8" d="M69 300h1v1h-1zM44 262h1v1h-1zM69 304h2v2h-2zM61 294h2v1h-2zM58 279h2v2h-2zM66 302h2v1h-2zM72 305h1v2h-1zM58 281h1v2h-1zM56 273h2v1h-2zM61 288h1v2h-1zM54 272h2v1h-2zM55 270h1v1h-1zM67 295h1v2h-1zM56 285h1v2h-1zM52 269h1v2h-1zM60 288h1v2h-1zM60 280h1v2h-1zM70 306h2v2h-2zM52 277h1v1h-1zM68 300h2v1h-2zM56 283h2v2h-2zM59 283h2v1h-2zM61 295h2v2h-2zM62 289h2v1h-2z"/>
<path fill="#0068c8" d="M46 255h1v1h-1zM45 247h1v1h-1zM46 207h2v2h-2zM45 246h2v2h-2zM44 254h2v1h-2zM45 224h1v2h-1zM44 228h1v1h-1zM46 218h1v2h-1zM45 233h2v1h-2zM44 207h2v1h-2z"/>
<path fill="#0000ff" d="M91 294h2v2h-2zM93 294h1v1h-1zM94 297h1v1h-1zM92 317h2v1h-2zM96 303h2v2h-2zM94 309h1v2h-1zM96 298h1v1h-1zM89 290h2v2h-2zM88 286h1v1h-1zM95 302h2v1h-2zM96 309h1v2h-1zM96 300h2v1h-2zM92 316h2v2h-2zM95 297h2v2h-2zM92 304h1v1h-1zM97 300h2v2h-2z"/>
<polygon fill="#9478c0" points="67,237 65,234 62,226 60,216 60,197 61,194 63,192 69,192 72,196 76,203 77,205 81,199 85,197 87,193 89,192 98,193 100,196 101,201 105,204 106,208 105,212 108,216 108,221 109,228 111,233 112,236 116,240 111,238 108,236 105,236 101,231 97,228 96,222 95,216 93,212 89,211 85,212 82,213 81,219 79,223 74,226 71,230 68,236"/>
<path fill="none" stroke="#9478c0" stroke-width="3" d="M67.0 236.0L71.0 246.0M71.0 246.0L76.0 254.0M76.0 254.0L78.0 262.0"/>
<path fill="none" stroke="#9478c0" stroke-width="2.2" d="M78.0 262.0L88.0 285.0"/>
<path fill="none" stroke="#a698cc" stroke-width="2.4" d="M66.0 203.0L66.0 215.0M66.0 215.0L68.0 231.0"/>
<path fill="none" stroke="#a698cc" stroke-width="1.2" d="M69.0 240.0L72.0 247.0"/>
<path fill="#000" d="M66 198h2v1h-2zM67 199h1v1h-1zM70 201h1v1h-1zM75 215h1v2h-1zM75 211h1v1h-1zM81 207h1v1h-1zM72 220h2v2h-2zM77 221h3v1h-3zM89 219h1v1h-1z"/>
<path fill="#a698cc" d="M82 197h3v3h-3zM80 200h2v3h-2zM92 199h3v2h-3zM94 202h2v2h-2zM97 217h3v1h-3zM99 221h2v1h-2z"/>
<path fill="#000" d="M85 212h1v1h-1zM80 203h2v2h-2zM61 196h1v1h-1zM98 229h1v2h-1zM107 228h1v1h-1zM81 219h2v1h-2zM108 227h2v2h-2zM109 234h1v1h-1zM108 217h1v2h-1zM93 211h1v2h-1zM76 204h2v1h-2zM80 221h1v1h-1zM106 214h1v1h-1zM81 200h2v1h-2zM62 195h2v1h-2zM105 207h1v1h-1zM85 211h1v2h-1zM69 233h1v2h-1zM111 233h2v2h-2zM85 197h1v2h-1zM89 211h2v1h-2zM81 214h1v2h-1zM69 232h1v2h-1zM99 228h1v2h-1zM98 226h1v2h-1zM107 217h1v1h-1zM65 233h1v1h-1zM74 202h1v1h-1zM97 228h1v2h-1zM78 224h1v2h-1zM80 214h2v1h-2zM87 194h1v1h-1zM110 237h1v1h-1zM79 202h1v2h-1zM110 237h1v1h-1zM70 194h2v1h-2zM76 205h2v1h-2zM71 197h1v1h-1zM109 226h2v1h-2zM76 223h1v2h-1zM110 235h2v1h-2zM78 223h2v2h-2zM108 227h1v2h-1zM106 208h2v1h-2zM80 218h1v1h-1zM108 222h2v1h-2zM105 213h1v1h-1z"/>
<path fill="#9478c0" d="M77 224h2v2h-2zM95 217h2v1h-2zM77 204h2v1h-2zM79 201h1v1h-1zM73 195h1v1h-1zM89 192h1v1h-1zM63 230h1v1h-1zM105 212h2v1h-2zM73 196h1v2h-1zM63 192h1v2h-1zM74 227h1v2h-1zM83 214h1v1h-1zM108 237h1v1h-1zM76 225h1v2h-1zM112 234h1v1h-1zM106 209h1v1h-1zM115 240h2v1h-2zM111 233h1v1h-1zM116 240h2v1h-2zM106 211h2v1h-2zM82 198h1v1h-1zM59 201h1v1h-1zM82 214h1v1h-1zM106 204h2v1h-2zM60 220h2v1h-2zM66 237h2v1h-2zM108 214h1v1h-1zM82 220h1v1h-1zM106 205h2v2h-2zM68 191h2v1h-2zM92 213h2v2h-2zM73 230h1v1h-1zM77 202h2v1h-2zM105 204h1v1h-1zM106 206h1v1h-1zM61 195h1v2h-1zM77 203h2v2h-2zM76 202h1v1h-1zM75 200h2v1h-2zM63 192h1v1h-1zM96 228h2v2h-2zM71 192h1v1h-1zM61 224h1v2h-1z"/>
<path fill="#9478c0" d="M84 219h1v1h-1zM88 221h1v1h-1zM75 237h1v2h-1zM77 236h2v1h-2zM89 218h1v1h-1zM121 237h1v1h-1z"/>
<polygon fill="#9478c0" points="84,279 90,287 96,293 104,299 114,302 126,306 134,310 144,308 150,312 148,317 139,319 134,314 128,317 132,321 130,327 114,329 100,333 88,338 89,347 84,348 80,344 82,335 88,325 96,317 98,305 96,294"/>
<polygon fill="#b0b4d8" points="92,294 97,297 100,303 100,313 104,318 112,320 118,322 116,327 106,328 98,330 94,326 98,318 97,308 94,301"/>
<polygon fill="#0068c8" points="100,308 104,304 112,304 116,308 118,314 112,317 104,316 101,313"/>
<polygon fill="#00b400" points="103,310 106,308 111,308 112,312 108,314 104,313"/>
<polygon fill="#0000ff" points="134,312 138,309 146,309 148,313 146,318 138,319 135,317"/>
<path fill="#3a0ca3" d="M140 311h3v2h-3zM144 315h2v2h-2zM136 314h2v2h-2z"/>
<path fill="#0000ff" d="M122 311h2v2h-2zM126 313h2v1h-2z"/>
<path fill="#000" d="M124 318h3v1h-3z"/>
<path fill="#9478c0" d="M98 316h2v1h-2zM95 302h1v2h-1zM110 322h1v1h-1zM104 309h2v2h-2zM95 325h2v1h-2zM99 300h1v1h-1zM99 308h1v2h-1zM96 323h1v2h-1zM97 303h1v2h-1zM95 326h2v1h-2zM94 297h2v2h-2zM108 323h1v1h-1zM113 321h1v1h-1zM94 309h1v1h-1zM103 311h2v2h-2zM96 325h2v1h-2zM92 299h1v1h-1zM95 307h2v2h-2zM92 297h1v1h-1zM97 312h2v2h-2zM100 313h2v1h-2zM102 318h1v1h-1zM100 309h1v2h-1zM102 308h2v2h-2z"/>
<path fill="#b0b4d8" d="M128 324h1v2h-1zM121 305h1v1h-1zM114 313h2v2h-2zM109 306h1v1h-1zM117 316h1v1h-1zM110 309h1v2h-1zM117 322h1v1h-1zM123 314h1v2h-1zM128 312h1v2h-1zM110 320h2v1h-2zM126 312h2v1h-2zM119 320h2v2h-2zM107 308h2v2h-2zM117 322h1v2h-1zM118 310h2v1h-2zM111 303h1v2h-1zM125 310h2v1h-2zM110 302h1v1h-1zM129 321h2v2h-2zM108 315h1v1h-1zM116 308h1v1h-1zM105 302h2v1h-2zM112 327h1v2h-1zM115 317h1v1h-1zM115 325h2v2h-2zM115 305h1v1h-1z"/>
<path fill="#3a0ca3" d="M124 314h1v1h-1zM130 311h1v2h-1zM120 309h2v2h-2zM123 312h1v2h-1zM127 315h1v1h-1zM127 316h2v1h-2zM126 309h2v2h-2zM126 315h1v1h-1z"/>
<polygon fill="#9478c0" points="158,319 161,317 164,318 165.5,322 163,324.5 160,324.5 158,322"/>
<polygon fill="#0000ff" points="160,319 163,319 164,322 161,323.5"/>
<path fill="none" stroke="#9478c0" stroke-width="2" d="M39.0 268.0L39.0 275.0M39.0 275.0L44.0 279.0M44.0 279.0L46.0 285.0M46.0 285.0L50.0 291.0M50.0 291.0L56.0 288.0M56.0 288.0L58.0 295.0M58.0 295.0L64.0 301.0M64.0 301.0L69.0 309.0M69.0 309.0L72.0 315.0"/>
<path fill="none" stroke="#9478c0" stroke-width="1" d="M58.0 316.0L63.0 323.0M63.0 323.0L65.0 331.0M65.0 331.0L66.0 341.0M66.0 341.0L72.0 349.0M72.0 349.0L78.0 350.0"/>
<polygon fill="#3a0ca3" points="58,316 66,318 72,314 76,315 76,322 70,330 65,331 63,323"/>
<path fill="none" stroke="#0000ff" stroke-width="2" d="M118.0 210.0L121.0 205.0"/>
<path fill="#9478c0" d="M125 215h4v2h-4z"/>
<polygon fill="#0000ff" points="116,251 119,249 122,251 121,254 117,254"/>
<path fill="#00b400" d="M118 251h2v2h-2z"/>
<path fill="none" stroke="#000" stroke-width="2.4" d="M5.3 170.6L12.3 162.7M9.5 162.3L17.4 154.5M6.0 184.4L18.1 175.4M10.5 162.4L17.0 154.1M14.6 180.4L20.6 173.0M13.4 178.7L24.7 169.5M3.7 192.3L11.3 182.9M7.9 191.6L13.6 186.6M13.3 170.3L21.6 162.9M22.7 196.1L31.9 188.1M0.9 185.9L10.8 177.2M3.9 174.6L11.9 168.4M9.0 161.7L19.4 152.4"/>
<path fill="none" stroke="#000" stroke-width="1" d="M19.5 188.0L22.4 185.1M21.7 178.0L27.3 171.8M29.3 193.6L33.0 189.5M6.0 162.6L8.6 159.5M10.8 179.4L13.8 176.2M25.6 189.7L30.4 184.1M14.1 172.4L19.4 166.5M1.0 167.1L5.6 163.1M17.1 190.8L21.1 187.6M4.6 192.5L9.7 187.5M16.4 175.5L20.3 171.8M8.2 176.6L15.2 171.6M4.1 172.8L9.1 166.9M12.7 163.2L19.0 158.1M7.6 182.8L10.9 178.9M22.3 198.7L27.1 192.8"/>
<path fill="none" stroke="#000" stroke-width="1" d="M44.8 153.4L49.5 149.8M40.2 152.0L44.0 148.5M45.2 150.5L48.6 147.5M42.6 150.7L45.9 147.4M50.1 148.3L53.4 145.7M38.8 153.4L41.9 149.4M53.2 147.9L56.4 145.5M60.3 150.2L63.5 147.8"/>
<path fill="none" stroke="#3a0ca3" stroke-width="1.8" d="M61.7 150.8L68.8 144.0M55.6 151.3L61.2 146.9M21.2 165.2L27.4 159.8M9.1 161.6L13.3 157.6M24.5 166.0L29.6 159.9M38.3 157.2L42.8 151.4M58.6 154.3L62.0 149.9M10.6 161.1L18.4 154.8M15.2 165.8L20.4 161.5M32.6 159.4L36.3 154.7M56.8 151.6L59.9 148.5M49.3 155.3L53.2 151.1M40.4 153.9L43.2 150.8M6.6 162.2L12.0 156.7M33.3 158.0L40.7 152.5M27.5 163.1L33.1 158.5M46.2 155.3L49.5 152.5M5.9 162.7L9.0 159.9M10.8 162.9L17.2 157.6M44.7 155.3L51.3 149.3M25.6 165.1L31.3 159.1M39.5 155.3L46.1 150.1M50.0 154.1L52.6 150.7M21.4 166.6L28.0 159.4M39.7 156.9L44.3 153.5M41.0 155.2L45.8 150.2M37.2 155.4L42.0 151.6M30.2 160.4L32.8 157.2M11.6 161.7L14.8 158.5M38.9 156.6L46.1 151.1M8.9 160.4L11.6 157.0M45.5 153.3L49.8 148.1M10.3 162.8L15.4 157.0M12.1 164.7L16.9 159.2M52.1 153.6L56.1 150.5M38.2 153.3L44.6 146.9M33.2 158.8L36.3 156.3M36.1 157.3L40.0 152.8M26.9 163.4L33.5 155.9M10.7 160.8L13.9 157.3"/>
<path fill="none" stroke="#3a0ca3" stroke-width="1.8" d="M49.2 152.9L56.9 145.8M50.4 148.9L56.6 142.8M51.2 150.5L55.8 145.7M42.2 152.1L47.8 147.3M58.5 151.5L65.0 146.4M57.3 150.3L63.8 144.7M54.4 152.2L58.2 148.9M53.8 151.7L59.1 146.0M52.6 148.5L59.4 140.4M52.1 151.6L56.6 146.1M53.6 152.6L59.0 146.6M52.1 152.5L57.9 148.2M53.4 151.0L60.1 142.2M57.8 151.4L61.9 148.3"/>
<path fill="none" stroke="#3a0ca3" stroke-width="1.8" d="M5.5 162.0L10.8 156.3M2.9 159.7L7.4 154.3M5.7 159.8L9.4 155.3M13.7 165.3L16.5 161.8M8.0 163.8L12.2 160.0"/>
<path fill="none" stroke="#000" stroke-width="1.2" d="M55.0 142.8L58.1 139.4M54.7 142.7L58.7 137.8M60.6 143.0L64.2 140.1M45.8 145.1L50.3 140.7M59.6 142.7L66.2 137.3M53.0 147.6L57.7 143.4M53.8 146.1L56.8 142.4M56.9 146.2L61.8 141.9M41.8 147.5L47.0 143.5M58.3 144.6L63.2 138.9M47.1 147.6L51.2 143.6M41.9 150.0L45.9 147.0"/>
<path fill="none" stroke="#9478c0" stroke-width="1" d="M48.3 149.0L49.8 147.4M43.3 148.6L45.2 147.1M38.5 154.0L39.3 153.3M4.6 158.4L5.5 157.2M20.6 156.6L21.5 155.7M71.0 131.6L72.8 130.2M7.9 156.9L9.4 155.1M62.4 138.8L63.4 138.1M18.1 159.2L19.0 158.2M71.7 137.2L72.8 136.1M14.8 156.2L15.9 155.1M28.6 156.5L30.4 154.9M23.1 154.1L24.6 152.7M72.2 133.0L73.3 132.1M51.9 147.5L53.1 146.5M67.2 137.6L68.1 136.6M52.2 144.4L54.0 143.1M35.4 155.5L36.7 153.9M12.1 161.5L12.9 160.9M27.7 156.3L29.4 154.8M5.0 163.2L6.5 161.2M4.7 161.5L5.6 160.5M58.1 145.2L59.4 143.6M35.6 153.9L36.9 152.3M33.5 152.4L34.2 151.6M7.4 157.3L8.3 156.2"/>
<path fill="none" stroke="#9478c0" stroke-width="1" d="M28.5 170.7L29.4 169.9M12.2 193.1L13.1 192.2M5.4 165.3L6.7 164.0M7.1 196.3L8.4 194.8M3.5 192.3L4.3 191.4M4.6 195.0L5.4 194.1M17.7 193.9L19.3 192.4M28.0 177.7L29.9 176.1M25.2 181.3L26.1 180.2M21.8 165.1L22.9 164.0M29.7 184.8L31.0 183.2M0.7 177.2L1.8 175.7M8.8 164.8L10.2 163.4M11.2 179.1L12.9 177.8M16.3 181.8L17.4 180.9M1.0 170.3L2.1 169.3M21.9 194.5L23.3 193.0M2.6 174.4L4.1 173.2M29.5 177.3L30.9 175.7M11.0 160.7L12.2 159.3M12.3 177.5L13.8 176.3M26.0 172.2L27.6 170.6M14.2 188.8L15.5 187.2M3.1 167.9L4.5 166.0M3.9 173.6L5.3 172.6M8.7 166.2L9.6 165.4"/>
<path fill="none" stroke="#000" stroke-width="2" d="M7.4 217.1L5.8 223.4M3.2 198.2L2.7 205.6M4.8 205.1L2.3 217.2M2.0 212.3L-1.5 221.8M4.5 207.2L1.2 219.0M2.0 215.3L1.6 222.3M7.4 208.4L5.1 218.8"/>
<path fill="none" stroke="#000" stroke-width="2.4" d="M22.0 201.5L17.9 214.5M22.1 222.4L17.7 235.9M25.7 243.6L24.1 252.2M22.1 220.7L17.0 235.8M23.3 218.4L21.0 231.4M23.3 209.5L20.6 222.3M26.2 213.0L23.1 224.4M25.1 196.8L22.6 209.8M26.8 205.8L24.3 218.4M28.9 237.9L24.1 252.6M23.0 244.8L22.1 258.3M24.9 247.5L23.2 258.1"/>
<path fill="none" stroke="#000" stroke-width="2" d="M16.6 203.6L15.8 212.7M11.5 219.5L10.3 226.7M18.2 221.7L16.9 230.9M17.1 222.3L14.1 232.1M12.4 235.4L11.5 245.2M16.1 204.1L15.7 211.1"/>
<path fill="none" stroke="#000" stroke-width="1" d="M36.3 209.3L35.3 212.2M11.1 227.9L10.5 232.7M10.2 238.3L9.0 241.9M33.3 199.5L31.8 204.1M15.5 220.1L14.9 223.2M32.8 228.5L32.5 231.8M10.7 244.7L9.3 250.0M31.7 235.5L30.7 242.8M23.2 239.0L22.7 245.6M13.9 214.1L12.5 217.8M32.4 252.4L30.6 259.4M30.7 215.2L29.6 218.6M21.8 229.0L21.5 232.8M37.7 200.8L36.3 206.8M28.8 226.7L27.7 230.3M38.2 197.4L37.5 203.5M20.3 210.3L19.8 214.2M26.8 232.2L26.2 235.8M36.7 197.3L36.3 203.9M29.2 236.3L28.0 240.6M7.1 208.3L5.3 215.9M14.3 214.5L12.4 222.0"/>
<path fill="none" stroke="#3a0ca3" stroke-width="1.5" d="M12.8 244.4L11.5 251.8M13.6 241.3L11.5 248.2M9.8 249.4L9.2 255.4M10.3 236.6L9.5 240.9M17.1 242.5L16.0 247.7M14.7 246.7L12.9 253.7M11.6 238.2L9.7 243.9M19.1 238.2L17.8 245.1M8.6 249.6L7.0 254.2M15.2 239.5L13.2 245.4"/>
<path fill="none" stroke="#3a0ca3" stroke-width="1.5" d="M31.2 245.6L30.6 250.0M35.1 253.5L33.6 258.5M34.6 249.0L32.7 256.3M33.2 247.5L31.3 254.6M33.2 253.6L32.8 258.2M35.7 246.9L35.3 252.0M36.7 253.5L35.6 258.0M33.8 241.6L31.4 249.1"/>
<path fill="none" stroke="#9478c0" stroke-width="1" d="M18.9 252.9L18.7 254.9M18.5 250.4L18.0 252.8M24.6 256.1L24.4 257.4M6.0 247.6L5.7 250.1M13.7 212.2L13.0 214.3M36.1 208.6L35.9 209.9M33.7 212.8L33.6 214.1M36.9 210.3L36.5 211.6M17.7 244.3L17.5 246.6M30.5 224.9L30.4 226.7M10.6 218.4L10.3 219.9M26.8 230.1L26.5 231.5M25.5 247.7L25.0 249.8M24.2 230.0L23.9 232.1M33.5 254.0L33.2 256.2M3.9 209.8L3.1 212.1M39.8 228.6L39.5 229.7M36.2 223.6L36.0 224.6M20.6 206.1L20.2 207.3M35.2 223.8L34.6 225.6M7.4 221.2L7.3 222.2M16.5 242.1L16.3 243.9M4.6 199.1L4.5 200.2M13.2 246.9L13.0 248.9M5.5 237.1L5.1 239.6M31.6 254.7L31.1 256.7M26.2 243.4L26.0 245.7M19.6 227.2L19.5 228.8M37.2 220.3L36.9 221.6M29.1 220.2L28.7 222.0M33.7 233.5L33.4 235.5M37.1 205.8L36.8 207.4M15.7 234.6L15.6 235.9M12.4 249.6L12.3 250.8M5.1 235.3L4.5 237.2M36.6 224.1L36.4 226.3M32.4 221.9L31.9 223.6M32.8 219.3L32.6 221.5M26.3 248.2L25.8 249.9M4.7 214.5L4.2 216.9M24.3 216.0L23.7 218.4M39.1 230.8L38.8 232.7M4.2 203.2L3.9 204.8M10.2 249.7L9.6 251.9"/>
<path fill="#9478c0" d="M34 270h2v4h-2zM41 273h1v5h-1zM19 265h1v4h-1zM16 268h1v3h-1z"/>
<path fill="#c0c0c0" d="M540,82 L598,82 L598,137 Q574,104.5 540,82 Z"/>
<polygon fill="#c4c4c4" points="1,82 14.4,82 1,94.4"/>
<path fill="#000" d="M4 84h4v1h-4zM3 85h1v6h-1zM8 85h1v1h-1z"/>
<polygon fill="#d4d4d4" points="4,85 8.6,85 4,90.6"/>
<path fill="#3a0ca3" d="M620 82h6v5h-6zM621 87h5v16h-5zM619 103h10v11h-10zM611 114h15v19h-15zM614 133h6v16h-6zM611 149h12v18h-12zM617 165h6v44h-6zM623 189h3v20h-3zM620 209h6v46h-6zM620 255h3v85h-3zM605 205h3v4h-3zM602 229h6v9h-6zM602 245h6v9h-6zM602 308h3v17h-3zM623 306h3v7h-3zM605 335h18v12h-18zM608 344h12v7h-12zM626 91h2v1h-2zM626 98h2v1h-2zM623 190h3v1h-3zM626 236h3v1h-3zM626 240h3v1h-3zM599 236h3v1h-3z"/>
<path fill="#0000ff" d="M617 86h4v27h-4zM614 108h5v13h-5zM617 128h3v3h-3zM611 154h6v13h-6zM611 165h6v10h-6zM608 175h9v30h-9zM608 203h12v9h-12zM620 216h6v17h-6zM620 233h3v24h-3zM617 261h3v80h-3zM605 321h15v15h-15zM608 336h11v11h-11zM608 347h9v2h-9zM605 245h3v12h-3z"/>
<path fill="#0068c8" d="M611 169h3v11h-3zM611 191h3v11h-3zM617 208h3v16h-3zM614 255h6v12h-6zM605 267h12v54h-12zM608 325h9v14h-9zM605 247h3v8h-3z"/>
<path fill="#00b400" d="M611 204h3v6h-3zM608 210h9v45h-9zM617 224h3v31h-3zM605 255h12v12h-12zM608 269h6v56h-6zM605 281h12v14h-12zM602 251h3v2h-3zM611 296h5v20h-5z"/>
<path fill="#009c00" d="M617 232h3v23h-3zM611 240h3v10h-3zM608 285h3v8h-3z"/>
<path fill="#3a0ca3" d="M608 395h9v28h-9zM617 410h3v1h-3zM617 415h3v2h-3zM611 427h3v2h-3zM614 435h6v15h-6zM620 440h3v6h-3zM614 452h6v7h-6z"/>
<path fill="#0000ff" d="M608 398h6v24h-6zM611 434h6v18h-6zM614 452h3v7h-3z"/>
<path fill="#3a0ca3" d="M608 405h6v2h-6zM608 412h6v1h-6zM608 417h5v1h-5z"/>
<path fill="#0068c8" d="M611 440h3v1h-3zM611 443h3v1h-3z"/>
<polygon fill="#c0c0c0" points="595,459 598.5,455.5 598.5,459"/>
<polygon fill="#3a0ca3" points="127,398 131,395 136,397 138,403 139,408 140,414 138,421 128,421 121,416 122,410 126,407"/>
<polygon fill="#0000ff" points="129,398 135,398 136,404 130,405"/>
<path fill="none" stroke="#0000ff" stroke-width="1.6" d="M124.0 410.0L134.0 413.0M126.0 414.0L137.0 417.0M128.0 418.0L136.0 420.0"/>
<path fill="none" stroke="#000" stroke-width="1" d="M121.0 412.0L127.0 414.0M133.0 408.0L140.0 410.0M122.0 418.0L128.0 420.0"/>
<path fill="none" stroke="#9478c0" stroke-width="1" d="M122.1 410.1L123.1 410.4M123.1 409.4L125.3 410.1M123.5 404.3L125.0 405.0M122.2 402.6L123.5 403.2M128.4 410.7L130.5 411.2M126.2 407.0L128.8 408.2M136.4 397.8L138.5 398.2M136.7 394.4L138.1 395.0M124.1 413.3L126.8 414.1M118.9 412.2L120.3 412.8M119.2 412.0L121.1 412.5M139.1 420.8L140.8 421.5M119.5 412.7L121.4 413.6M122.0 412.4L123.7 412.9M124.9 397.9L126.9 398.5M129.6 395.0L130.7 395.4M135.9 419.0L137.7 419.5M130.8 421.5L133.5 422.1M129.3 398.9L130.4 399.4M128.8 407.4L131.4 408.2M118.0 409.4L120.7 410.6M139.7 420.6L141.1 421.0"/>
<path fill="none" stroke="#3a0ca3" stroke-width="1.5" d="M114.0 413.0L121.0 415.0M116.0 416.0L122.0 418.0M123.0 421.0L132.0 424.0"/>
<path fill="#9478c0" d="M127 427h8v1h-8zM129 428h5v1h-5z"/>
<path fill="none" stroke="#0000ff" stroke-width="3" d="M113.0 435.0L124.0 439.0"/>
<path fill="none" stroke="#0000ff" stroke-width="4" d="M114.0 441.0L127.0 446.0"/>
<path fill="none" stroke="#0000ff" stroke-width="3" d="M118.0 448.0L126.0 452.0"/>
<path fill="none" stroke="#0000ff" stroke-width="2" d="M129.0 437.0L137.0 441.0M132.0 450.0L142.0 454.0M100.0 454.0L117.0 459.0"/>
<path fill="none" stroke="#3a0ca3" stroke-width="1" d="M112.0 438.0L118.0 440.0M120.0 445.0L128.0 449.0M112.0 444.0L116.0 446.0M126.0 453.0L134.0 456.0M130.0 440.0L136.0 443.0"/>
<path fill="none" stroke="#9478c0" stroke-width="1" d="M124.1 447.2L126.2 447.5M140.3 441.7L141.5 442.1M124.8 442.1L126.7 442.4M124.3 437.1L125.4 437.5M111.0 452.2L113.0 452.9M130.1 446.1L132.3 446.8M114.7 441.6L116.9 442.2M121.1 435.9L122.1 436.4M135.2 447.9L136.6 448.3M116.2 439.0L118.2 439.3M126.0 444.2L127.1 444.4M133.8 454.6L135.1 455.0M123.8 444.6L125.4 445.1M128.1 454.1L130.1 454.5M113.6 449.8L115.5 450.6M116.7 437.0L118.7 437.4"/>
<polygon fill="#3a0ca3" points="161,444 166,439 173,435 190,433 192,440 193,450 174,451 168,448"/>
<polygon fill="#0000ff" points="163,443 168,440 176,437 188,436 189,447 176,449 168,446"/>
<polygon fill="#0068c8" points="177,441 182,439 187,438 186,442 181,444 178,445"/>
<path fill="#3a0ca3" d="M157 456h6v1h-6zM189 457h8v1h-8z"/>
<path fill="#0000ff" d="M172 456h8v3h-8z"/>
<path fill="#3a0ca3" d="M271 69h4v3h-4zM274 63h1v3h-1zM276 63h1v3h-1zM281 66h1v3h-1zM290 72h4v3h-4zM293 69h1v3h-1zM295 72h2v3h-2z"/>
<path fill="#3a0ca3" d="M273 66h3v3h-3z"/>
<path fill="#0000ff" d="M273 69h6v3h-6zM273 72h8v3h-8z"/>
<path fill="#0068c8" d="M277 72h2v3h-2z"/>
<rect fill="#0000ff" x="417" y="75" width="3" height="3"/>
<polygon fill="#3a0ca3" points="271,236 275,229 278,232 278,237 274,238"/>
<path fill="#9478c0" d="M277 235h1v2h-1zM272 233h1v1h-1z"/>
<path fill="none" stroke="#9478c0" stroke-width="1" d="M300.0 249.0L302.0 253.0"/>
<path fill="none" stroke="#9478c0" stroke-width="1" d="M290.0 267.0L291.0 262.0M291.0 262.0L294.0 262.0M294.0 262.0L296.0 259.0M296.0 259.0L296.0 264.0"/>
<polygon fill="#0000ff" points="276,290 279,288 282,290 281,293 276,293"/>
<path fill="#9478c0" d="M276 288h2v1h-2zM280 292h2v1h-2z"/>
<rect fill="#c0c0c0" x="417" y="236" width="3" height="2"/>
</svg>
</body></html>
